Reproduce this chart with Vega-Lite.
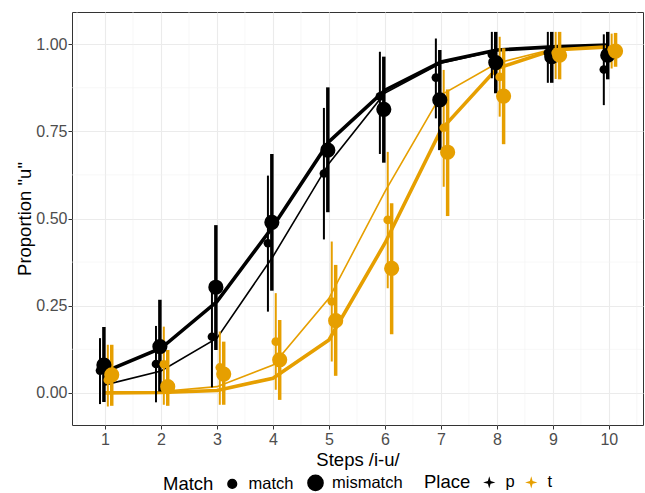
{
  "$schema": "https://vega.github.io/schema/vega-lite/v6.json",
  "width": 571,
  "height": 413,
  "autosize": "none",
  "padding": {"left": 72, "top": 12, "right": 2, "bottom": 68},
  "background": "white",
  "config": {
    "font": "Liberation Sans",
    "view": {"stroke": "#333333", "strokeWidth": 1},
    "axis": {
      "domain": false,
      "tickColor": "#333333",
      "tickSize": 4,
      "labelColor": "#4D4D4D",
      "labelFontSize": 16,
      "labelFont": "Liberation Sans",
      "titleFont": "Liberation Sans",
      "titleFontSize": 18.5,
      "titleFontWeight": "normal",
      "titleColor": "#000000",
      "gridColor": "#EBEBEB",
      "gridWidth": 1.1
    },
    "legend": {
      "titleFont": "Liberation Sans",
      "labelFont": "Liberation Sans",
      "titleFontSize": 18.5,
      "titleFontWeight": "normal",
      "labelFontSize": 16.5,
      "titleColor": "#000000",
      "labelColor": "#000000"
    }
  },
  "datasets": {
    "minorx": [{"v": 0.5}, {"v": 1.5}, {"v": 2.5}, {"v": 3.5}, {"v": 4.5}, {"v": 5.5}, {"v": 6.5}, {"v": 7.5}, {"v": 8.5}, {"v": 9.5}, {"v": 10.5}],
    "minory": [{"v": 0.125}, {"v": 0.375}, {"v": 0.625}, {"v": 0.875}],
    "pts": [
      {"step": 1, "Match": "mismatch", "Place": "p", "y": 0.080, "lo": -0.026, "hi": 0.189},
      {"step": 2, "Match": "mismatch", "Place": "p", "y": 0.133, "lo": 0.004, "hi": 0.267},
      {"step": 3, "Match": "mismatch", "Place": "p", "y": 0.303, "lo": 0.123, "hi": 0.481},
      {"step": 4, "Match": "mismatch", "Place": "p", "y": 0.489, "lo": 0.293, "hi": 0.685},
      {"step": 5, "Match": "mismatch", "Place": "p", "y": 0.696, "lo": 0.518, "hi": 0.876},
      {"step": 6, "Match": "mismatch", "Place": "p", "y": 0.813, "lo": 0.660, "hi": 0.964},
      {"step": 7, "Match": "mismatch", "Place": "p", "y": 0.840, "lo": 0.696, "hi": 0.983},
      {"step": 8, "Match": "mismatch", "Place": "p", "y": 0.947, "lo": 0.859, "hi": 1.035},
      {"step": 9, "Match": "mismatch", "Place": "p", "y": 0.964, "lo": 0.889, "hi": 1.035},
      {"step": 10, "Match": "mismatch", "Place": "p", "y": 0.968, "lo": 0.899, "hi": 1.035},
      {"step": 1, "Match": "match", "Place": "p", "y": 0.064, "lo": -0.032, "hi": 0.157},
      {"step": 2, "Match": "match", "Place": "p", "y": 0.083, "lo": -0.027, "hi": 0.192},
      {"step": 3, "Match": "match", "Place": "p", "y": 0.161, "lo": 0.016, "hi": 0.295},
      {"step": 4, "Match": "match", "Place": "p", "y": 0.429, "lo": 0.233, "hi": 0.623},
      {"step": 5, "Match": "match", "Place": "p", "y": 0.629, "lo": 0.440, "hi": 0.817},
      {"step": 6, "Match": "match", "Place": "p", "y": 0.850, "lo": 0.685, "hi": 0.978},
      {"step": 7, "Match": "match", "Place": "p", "y": 0.904, "lo": 0.787, "hi": 1.016},
      {"step": 8, "Match": "match", "Place": "p", "y": 0.970, "lo": 0.902, "hi": 1.035},
      {"step": 9, "Match": "match", "Place": "p", "y": 0.975, "lo": 0.889, "hi": 1.035},
      {"step": 10, "Match": "match", "Place": "p", "y": 0.927, "lo": 0.825, "hi": 1.028},
      {"step": 1, "Match": "match", "Place": "t", "y": 0.037, "lo": -0.039, "hi": 0.138},
      {"step": 2, "Match": "match", "Place": "t", "y": 0.082, "lo": -0.034, "hi": 0.190},
      {"step": 3, "Match": "match", "Place": "t", "y": 0.073, "lo": -0.034, "hi": 0.176},
      {"step": 4, "Match": "match", "Place": "t", "y": 0.147, "lo": 0.009, "hi": 0.286},
      {"step": 5, "Match": "match", "Place": "t", "y": 0.262, "lo": 0.090, "hi": 0.434},
      {"step": 6, "Match": "match", "Place": "t", "y": 0.496, "lo": 0.300, "hi": 0.691},
      {"step": 7, "Match": "match", "Place": "t", "y": 0.760, "lo": 0.591, "hi": 0.926},
      {"step": 8, "Match": "match", "Place": "t", "y": 0.906, "lo": 0.792, "hi": 1.021},
      {"step": 9, "Match": "match", "Place": "t", "y": 0.975, "lo": 0.900, "hi": 1.035},
      {"step": 10, "Match": "match", "Place": "t", "y": 0.985, "lo": 0.930, "hi": 1.030},
      {"step": 1, "Match": "mismatch", "Place": "t", "y": 0.052, "lo": -0.037, "hi": 0.138},
      {"step": 2, "Match": "mismatch", "Place": "t", "y": 0.018, "lo": -0.037, "hi": 0.123},
      {"step": 3, "Match": "mismatch", "Place": "t", "y": 0.054, "lo": -0.034, "hi": 0.147},
      {"step": 4, "Match": "mismatch", "Place": "t", "y": 0.095, "lo": -0.020, "hi": 0.209},
      {"step": 5, "Match": "mismatch", "Place": "t", "y": 0.207, "lo": 0.049, "hi": 0.367},
      {"step": 6, "Match": "mismatch", "Place": "t", "y": 0.357, "lo": 0.168, "hi": 0.544},
      {"step": 7, "Match": "mismatch", "Place": "t", "y": 0.690, "lo": 0.507, "hi": 0.870},
      {"step": 8, "Match": "mismatch", "Place": "t", "y": 0.851, "lo": 0.713, "hi": 0.988},
      {"step": 9, "Match": "mismatch", "Place": "t", "y": 0.968, "lo": 0.899, "hi": 1.035},
      {"step": 10, "Match": "mismatch", "Place": "t", "y": 0.980, "lo": 0.935, "hi": 1.032}
    ],
    "fits": [
      {"step": 1, "Match": "mismatch", "Place": "p", "fit": 0.061},
      {"step": 2, "Match": "mismatch", "Place": "p", "fit": 0.128},
      {"step": 3, "Match": "mismatch", "Place": "p", "fit": 0.262},
      {"step": 4, "Match": "mismatch", "Place": "p", "fit": 0.477},
      {"step": 5, "Match": "mismatch", "Place": "p", "fit": 0.720},
      {"step": 6, "Match": "mismatch", "Place": "p", "fit": 0.868},
      {"step": 7, "Match": "mismatch", "Place": "p", "fit": 0.949},
      {"step": 8, "Match": "mismatch", "Place": "p", "fit": 0.983},
      {"step": 9, "Match": "mismatch", "Place": "p", "fit": 0.992},
      {"step": 10, "Match": "mismatch", "Place": "p", "fit": 0.997},
      {"step": 1, "Match": "match", "Place": "p", "fit": 0.023},
      {"step": 2, "Match": "match", "Place": "p", "fit": 0.063},
      {"step": 3, "Match": "match", "Place": "p", "fit": 0.157},
      {"step": 4, "Match": "match", "Place": "p", "fit": 0.391},
      {"step": 5, "Match": "match", "Place": "p", "fit": 0.658},
      {"step": 6, "Match": "match", "Place": "p", "fit": 0.860},
      {"step": 7, "Match": "match", "Place": "p", "fit": 0.945},
      {"step": 8, "Match": "match", "Place": "p", "fit": 0.982},
      {"step": 9, "Match": "match", "Place": "p", "fit": 0.993},
      {"step": 10, "Match": "match", "Place": "p", "fit": 0.997},
      {"step": 1, "Match": "match", "Place": "t", "fit": 0.001},
      {"step": 2, "Match": "match", "Place": "t", "fit": 0.004},
      {"step": 3, "Match": "match", "Place": "t", "fit": 0.018},
      {"step": 4, "Match": "match", "Place": "t", "fit": 0.080},
      {"step": 5, "Match": "match", "Place": "t", "fit": 0.271},
      {"step": 6, "Match": "match", "Place": "t", "fit": 0.577},
      {"step": 7, "Match": "match", "Place": "t", "fit": 0.854},
      {"step": 8, "Match": "match", "Place": "t", "fit": 0.945},
      {"step": 9, "Match": "match", "Place": "t", "fit": 0.986},
      {"step": 10, "Match": "match", "Place": "t", "fit": 0.995},
      {"step": 1, "Match": "mismatch", "Place": "t", "fit": 0.000},
      {"step": 2, "Match": "mismatch", "Place": "t", "fit": 0.001},
      {"step": 3, "Match": "mismatch", "Place": "t", "fit": 0.007},
      {"step": 4, "Match": "mismatch", "Place": "t", "fit": 0.042},
      {"step": 5, "Match": "mismatch", "Place": "t", "fit": 0.152},
      {"step": 6, "Match": "mismatch", "Place": "t", "fit": 0.429},
      {"step": 7, "Match": "mismatch", "Place": "t", "fit": 0.754},
      {"step": 8, "Match": "mismatch", "Place": "t", "fit": 0.930},
      {"step": 9, "Match": "mismatch", "Place": "t", "fit": 0.983},
      {"step": 10, "Match": "mismatch", "Place": "t", "fit": 0.992}
    ]
  },
  "layer": [
    {
      "data": {"name": "minorx"},
      "mark": {"type": "rule", "color": "#F2F2F2", "strokeWidth": 0.6},
      "encoding": {
        "x": {
          "field": "v", "type": "quantitative",
          "scale": {"domain": [0.41, 10.61], "nice": false, "zero": false},
          "axis": {
            "title": "Steps /i-u/",
            "values": [1, 2, 3, 4, 5, 6, 7, 8, 9, 10],
            "format": "d",
            "labelPadding": 2,
            "titlePadding": 3
          }
        }
      }
    },
    {
      "data": {"name": "minory"},
      "mark": {"type": "rule", "color": "#F2F2F2", "strokeWidth": 0.6},
      "encoding": {
        "y": {
          "field": "v", "type": "quantitative",
          "scale": {"domain": [-0.092, 1.092], "nice": false, "zero": false},
          "axis": {
            "title": "Proportion \"u\"",
            "values": [0, 0.25, 0.5, 0.75, 1],
            "format": ".2f",
            "labelPadding": 1,
            "titlePadding": 1
          }
        }
      }
    },
    {
      "data": {"name": "fits"},
      "transform": [{"filter": "datum.Match === 'match'"}],
      "mark": {"type": "line", "strokeWidth": 1.6},
      "encoding": {
        "x": {"field": "step", "type": "quantitative"},
        "y": {"field": "fit", "type": "quantitative"},
        "color": {"field": "Place", "type": "nominal"}
      }
    },
    {
      "data": {"name": "fits"},
      "transform": [{"filter": "datum.Match === 'mismatch'"}],
      "mark": {"type": "line", "strokeWidth": 3.6},
      "encoding": {
        "x": {"field": "step", "type": "quantitative"},
        "y": {"field": "fit", "type": "quantitative"},
        "color": {"field": "Place", "type": "nominal"}
      }
    },
    {
      "data": {"name": "pts"},
      "transform": [
        {"filter": "datum.Match === 'match'"},
        {"calculate": "datum.step + (datum.Place === 'p' ? -0.09 : 0.05)", "as": "xd"}
      ],
      "mark": {"type": "rule", "strokeWidth": 2},
      "encoding": {
        "x": {"field": "xd", "type": "quantitative"},
        "y": {"field": "lo", "type": "quantitative"},
        "y2": {"field": "hi"},
        "color": {"field": "Place", "type": "nominal"}
      }
    },
    {
      "data": {"name": "pts"},
      "transform": [
        {"filter": "datum.Match === 'mismatch'"},
        {"calculate": "datum.step + (datum.Place === 'p' ? -0.02 : 0.12)", "as": "xd"}
      ],
      "mark": {"type": "rule", "strokeWidth": 3.5},
      "encoding": {
        "x": {"field": "xd", "type": "quantitative"},
        "y": {"field": "lo", "type": "quantitative"},
        "y2": {"field": "hi"},
        "color": {"field": "Place", "type": "nominal"}
      }
    },
    {
      "data": {"name": "pts"},
      "transform": [
        {"calculate": "datum.step + (datum.Place === 'p' ? (datum.Match === 'match' ? -0.09 : -0.02) : (datum.Match === 'match' ? 0.05 : 0.12))", "as": "xd"}
      ],
      "mark": {"type": "circle", "opacity": 1},
      "encoding": {
        "x": {"field": "xd", "type": "quantitative"},
        "y": {"field": "y", "type": "quantitative"},
        "color": {
          "field": "Place", "type": "nominal",
          "scale": {"domain": ["p", "t"], "range": ["#000000", "#E69F00"]},
          "legend": {
            "orient": "none", "legendX": 352, "legendY": 462, "direction": "horizontal",
            "titleOrient": "left", "titlePadding": 10,
            "symbolType": "M0,-1L0.22,-0.22L1,0L0.22,0.22L0,1L-0.22,0.22L-1,0L-0.22,-0.22Z",
            "symbolSize": 150, "symbolStrokeWidth": 0, "columnPadding": 8, "labelOffset": 8
          }
        },
        "size": {
          "field": "Match", "type": "nominal",
          "scale": {"domain": ["match", "mismatch"], "range": [75, 230]},
          "legend": {
            "orient": "none", "legendX": 91, "legendY": 462, "direction": "horizontal",
            "titleOrient": "left", "titlePadding": 10,
            "symbolFillColor": "#000000", "symbolStrokeColor": "#000000",
            "columnPadding": 10, "labelOffset": 8
          }
        }
      }
    }
  ]
}
